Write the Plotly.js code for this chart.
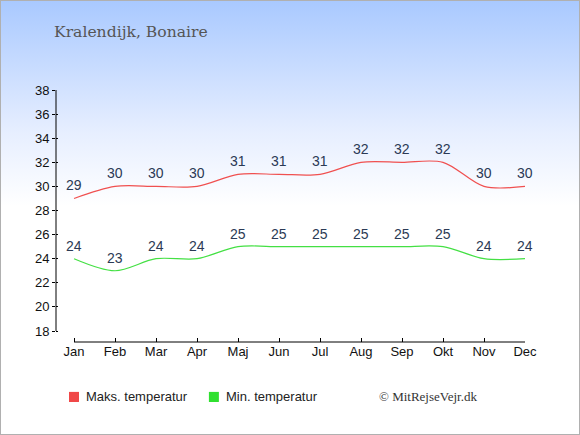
<!DOCTYPE html>
<html><head><meta charset="utf-8">
<script src="https://cdn.plot.ly/plotly-3.0.1.min.js"></script>
<style>
html,body{margin:0;padding:0;}
body{width:580px;height:435px;overflow:hidden;}
#wrap{position:absolute;left:0;top:0;width:578px;height:433px;border:1px solid #b0b0b0;
background:linear-gradient(to bottom,#a9c9ff 0px,#e6eeff 130px,#ffffff 205px,#ffffff 100%);}
#chart{position:absolute;left:-1px;top:-1px;width:580px;height:435px;}
</style></head>
<body><div id="wrap"><div id="chart"></div></div>
<script>
var months = ["Jan","Feb","Mar","Apr","Maj","Jun","Jul","Aug","Sep","Okt","Nov","Dec"];
var maxTemp = [29,30,30,30,31,31,31,32,32,32,30,30];
var minTemp = [24,23,24,24,25,25,25,25,25,25,24,24];
var yTicks = [18,20,22,24,26,28,30,32,34,36,38];
var title = "Kralendijk, Bonaire";
var legendMax = "Maks. temperatur";
var legendMin = "Min. temperatur";
var credit = "© MitRejseVejr.dk";

var xIdx = months.map(function(m,i){return i;});
var redC = "#f05050", greenC = "#44e044";
var traces = [
 {x:xIdx,y:maxTemp,mode:"lines",line:{color:redC,width:1.2,shape:"spline",smoothing:0.9},hoverinfo:"none",showlegend:false},
 {x:xIdx,y:minTemp,mode:"lines",line:{color:greenC,width:1.2,shape:"spline",smoothing:0.9},hoverinfo:"none",showlegend:false},
 {x:[0],y:[30],yaxis:"y2",mode:"markers",marker:{opacity:0},hoverinfo:"none",showlegend:false}
];
var ann = [];
function addLabels(vals){
  vals.forEach(function(v,i){
    ann.push({x:i,y:v,xref:"x",yref:"y",text:String(v),showarrow:false,yshift:13,
      font:{family:"Liberation Sans, Arial, sans-serif",size:14,color:"#2b3a55"}});
  });
}
addLabels(maxTemp); addLabels(minTemp);
ann.push({xref:"paper",yref:"paper",x:-0.0085,y:1.23,xanchor:"left",yanchor:"middle",text:title,showarrow:false,
  font:{family:"DejaVu Serif, serif",size:15.6,color:"#555555"}});
ann.push({xref:"paper",yref:"paper",x:0.0597,y:-0.218,xanchor:"left",yanchor:"middle",text:legendMax,showarrow:false,
  font:{family:"Liberation Sans, Arial, sans-serif",size:13,color:"#222"}});
ann.push({xref:"paper",yref:"paper",x:0.358,y:-0.218,xanchor:"left",yanchor:"middle",text:legendMin,showarrow:false,
  font:{family:"Liberation Sans, Arial, sans-serif",size:13,color:"#222"}});
ann.push({xref:"paper",yref:"paper",x:0.684,y:-0.218,xanchor:"left",yanchor:"middle",text:credit,showarrow:false,
  font:{family:"Liberation Serif, serif",size:13,color:"#333"}});

var yBottom = 18 - 11/12.05;
var shapes = [
 {type:"line",xref:"paper",yref:"y",x0:0,x1:0,y0:18,y1:38,line:{color:"#000",width:1}},
 {type:"line",xref:"x",yref:"paper",x0:0,x1:11,y0:0,y1:0,line:{color:"#000",width:1}},
 {type:"rect",xref:"paper",yref:"paper",x0:0.0277,x1:0.049,y0:-0.198,y1:-0.238,fillcolor:"#f04848",line:{width:0}},
 {type:"rect",xref:"paper",yref:"paper",x0:0.326,x1:0.3473,y0:-0.198,y1:-0.238,fillcolor:"#30e030",line:{width:0}}
];

var layout = {
  width:580,height:435,
  margin:{l:56,r:55,t:90,b:93},
  paper_bgcolor:"rgba(0,0,0,0)",plot_bgcolor:"rgba(0,0,0,0)",
  showlegend:false,
  xaxis:{range:[-0.44,11],tickvals:xIdx,ticktext:months,ticks:"inside",ticklen:4,tickcolor:"#000",
    showline:false,showgrid:false,zeroline:false,fixedrange:true,
    tickfont:{family:"Liberation Sans, Arial, sans-serif",size:13,color:"#111"}},
  yaxis:{range:[yBottom,38],tickvals:yTicks,ticks:"outside",ticklen:3,tickcolor:"#000",
    showline:false,showgrid:false,zeroline:false,fixedrange:true,
    tickfont:{family:"Liberation Sans, Arial, sans-serif",size:13,color:"#111"}},
  yaxis2:{overlaying:"y",side:"left",range:[yBottom,38],tickvals:yTicks,ticks:"inside",ticklen:2,tickcolor:"#000",
    showticklabels:false,showline:false,showgrid:false,zeroline:false,fixedrange:true},
  annotations:ann,shapes:shapes
};
Plotly.newPlot("chart",traces,layout,{staticPlot:true,displayModeBar:false});
</script></body></html>
